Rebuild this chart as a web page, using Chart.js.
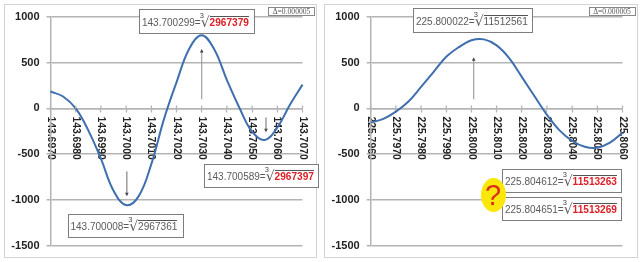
<!DOCTYPE html>
<html><head><meta charset="utf-8">
<script src="https://cdn.jsdelivr.net/npm/chart.js@4"></script>
<style>
html,body{margin:0;padding:0;background:#fff;width:641px;height:262px;overflow:hidden;font-family:"Liberation Sans",sans-serif}
.panel{position:absolute;box-sizing:border-box;border:1.5px solid #d4d4d4;background:#fff}
canvas{position:absolute;top:0;filter:blur(.3px)}
.box{position:absolute;box-sizing:border-box;border:1.3px solid #7d7d7d;background:#fff;color:#5a5a5a;font-size:10px;white-space:nowrap;display:flex;align-items:flex-end;padding:0 0 5px 2px;filter:blur(.25px)}
.box .sq{font:14px "DejaVu Sans";line-height:11px;position:relative}
.box .sq i{position:absolute;font:normal 7.5px "Liberation Sans";left:-1px;top:-6px;color:#444}
.box .v{border-top:1px solid #555;line-height:11px;padding-top:0;font-size:10.1px}
.box .r{color:#dd2027;font-weight:bold}
.delta{position:absolute;box-sizing:border-box;border:1px solid #888;background:#fff;color:#555;font:7.6px "Liberation Serif",serif;line-height:7px;height:9px;width:47px;text-align:center;filter:blur(.2px)}
.q{position:absolute;left:480.5px;top:178px;width:25px;height:34px;border-radius:50%;background:#fbe80a;color:#de2a1c;font:29px/34px "Liberation Sans",sans-serif;text-align:center}
</style></head><body>
<div class="panel" style="left:4px;top:4px;width:312.5px;height:254px"></div>
<div class="panel" style="left:324px;top:4px;width:313.5px;height:254px"></div>
<canvas id="c1" width="320" height="262" style="left:0"></canvas>
<canvas id="c2" width="320" height="262" style="left:320px"></canvas>
<div class="delta" style="left:268px;top:6.5px">Δ=0.000005</div>
<div class="delta" style="left:588.5px;top:6.5px">Δ=0.000005</div>
<div class="box" style="left:139px;top:9px;width:116px;height:24.5px">143.700299=<span class="sq"><i>3</i>√</span><span class="v r">2967379</span></div>
<div class="box" style="left:204px;top:164px;width:114.5px;height:24px">143.700589=<span class="sq"><i>3</i>√</span><span class="v r">2967397</span></div>
<div class="box" style="left:67.5px;top:214px;width:116px;height:24px">143.700008=<span class="sq"><i>3</i>√</span><span class="v">2967361</span></div>
<div class="box" style="left:413px;top:8px;width:120px;height:24.5px">225.800022=<span class="sq"><i>3</i>√</span><span class="v">11512561</span></div>
<div class="box" style="left:502px;top:169px;width:120px;height:24px">225.804612=<span class="sq"><i>3</i>√</span><span class="v r">11513263</span></div>
<div class="box" style="left:502px;top:197px;width:120px;height:24px">225.804651=<span class="sq"><i>3</i>√</span><span class="v r">11513269</span></div>
<div class="q">?</div>
<script>
const leftX = [143.6970,143.6975,143.6980,143.6985,143.6990,143.6995,143.7000,143.7005,143.7010,143.7015,143.7020,143.7025,143.7030,143.7035,143.7040,143.7045,143.7050,143.7055,143.7060,143.7065,143.7070];
const leftY = [185,130,0,-240,-550,-900,-1058,-960,-610,-120,285,650,800,645,310,5,-255,-345,-210,40,260];
const rightX = [225.7960,225.7965,225.7970,225.7975,225.7980,225.7985,225.7990,225.7995,225.8000,225.8005,225.8010,225.8015,225.8020,225.8025,225.8030,225.8035,225.8040,225.8045,225.8050,225.8055,225.8060];
const rightY = [-155,-115,-35,75,235,400,565,670,745,755,690,550,345,135,-70,-240,-355,-420,-430,-375,-265];
const yTicksMin = -1500, yTicksMax = 1000, yStep = 500;
const leftRange = [143.6970,143.7070], rightRange = [225.7960,225.8060], xStep = 0.001;
// arrows in data coordinates: [x, yFrom, yTo]
const leftArrows = [[143.7030,100,650],[143.70003,-690,-960],[143.70555,-100,-260]];
const rightArrows = [[225.80009,100,560]];

const extras = {
  id:'extras',
  afterDraw(ch, a, o){
    const c = ch.ctx, xs = ch.scales.x, ys = ch.scales.y;
    c.save();
    c.strokeStyle='#b4b4b4'; c.lineWidth=1.3;
    xs.ticks.forEach(t=>{const p=xs.getPixelForValue(t.value);const y0=ys.getPixelForValue(0);
      c.beginPath();c.moveTo(p,y0-3);c.lineTo(p,y0);c.stroke();});
    o.arrows.forEach(([x,a1,a2])=>{
      const px=xs.getPixelForValue(x), p1=ys.getPixelForValue(a1), p2=ys.getPixelForValue(a2), d=p2>p1?1:-1;
      c.strokeStyle=Math.abs(p2-p1)>30?'#999':'#777'; c.lineWidth=1.1;
      c.beginPath();c.moveTo(px,p1);c.lineTo(px,p2-d*2);c.stroke();
      c.fillStyle='#444';c.beginPath();c.moveTo(px,p2);c.lineTo(px-1.8,p2-d*3.5);c.lineTo(px+1.8,p2-d*3.5);c.closePath();c.fill();
    });
    c.restore();
  }
};
// the labels read downwards (rotated clockwise), starting just under the axis
function clockwiseLabels(s){
  if(s._cw) return; s._cw=true;
  const orig=s._computeLabelItems;
  s._computeLabelItems=function(area){
    const items=orig.call(this,area);
    items.forEach((it,i)=>{
      it.options.rotation=Math.PI/2;it.options.textAlign='left';it.options.textBaseline='middle';it.textOffset=0;
      it.options.translation=[this.getPixelForTick(i),it.options.translation[1]];
    });
    return items;
  };
}
function make(id, xs, ys, range, arrows){
  new Chart(document.getElementById(id),{
    type:'line',
    data:{datasets:[{data:xs.map((x,i)=>({x,y:ys[i]})),borderColor:'#3f6fae',borderWidth:2,pointRadius:0,tension:0.4,fill:false,clip:false}]},
    plugins:[extras],
    options:{
      responsive:false,animation:false,devicePixelRatio:1,
      layout:{padding:{left:id==='c1'?4.5:4.7,right:id==='c1'?16.5:16,top:17,bottom:16.5}},
      plugins:{legend:{display:false},tooltip:{enabled:false},extras:{arrows}},
      scales:{
        x:{type:'linear',position:{y:0},min:range[0],max:range[1],beforeUpdate:clockwiseLabels,
          grid:{drawOnChartArea:false,drawTicks:true,tickLength:3,tickWidth:1.3,tickColor:'#b4b4b4'},
          border:{color:'#b4b4b4',width:1.5},
          ticks:{stepSize:xStep,autoSkip:false,minRotation:90,maxRotation:90,padding:5,color:'#222',font:{family:'Liberation Sans',size:10.4,weight:'bold'},callback:v=>Number(v).toFixed(4)}},
        y:{min:yTicksMin,max:yTicksMax,afterFit(s){s.width=46;},
          grid:{color:'#b4b4b4',lineWidth:1.5,tickLength:4,tickColor:'#b4b4b4'},
          border:{color:'#b4b4b4',width:1.5},
          ticks:{stepSize:yStep,padding:7,color:'#222',font:{family:'Liberation Sans',size:11,weight:'bold'},callback:v=>String(v)}}
      }
    }
  });
}
make('c1',leftX,leftY,leftRange,leftArrows);
make('c2',rightX,rightY,rightRange,rightArrows);
</script>
</body></html>
